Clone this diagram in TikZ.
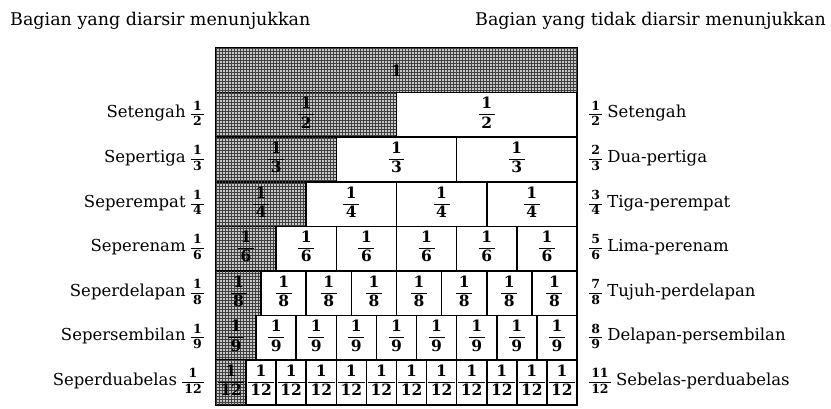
\documentclass[tikz,border=0pt]{standalone}
\usepackage{fontspec}
\setmainfont{DejaVu Serif}
\usetikzlibrary{patterns,positioning}

\setlength{\arrayrulewidth}{1.1pt}
\newcommand{\fr}[2]{\begin{tabular}{@{\,}c@{\,}}\bfseries #1\\\hline\bfseries #2\end{tabular}}
\newcommand{\smallfr}[2]{{\fontsize{12.5}{14.5}\selectfont\fr{#1}{#2}}}

\begin{document}
\begin{tikzpicture}[x=1pt,y=-1pt]
	\tikzset{
		cell/.style={draw, line width=1.6pt, minimum width=#1, minimum height=44.6pt,
				inner sep=0, outer sep=0, anchor=north west, font=\fontsize{15.5}{18}\selectfont},
		shaded/.style={fill=black!22, postaction={pattern=grid, pattern color=black!75}},
		rowlabel/.style={font=\fontsize{16.5}{18}\selectfont, inner sep=0},
		headlabel/.style={font=\fontsize{17.5}{20}\selectfont, inner sep=0},
	}
	\useasboundingbox (0,0) rectangle (831,408);
	% headers
	\node[headlabel, anchor=base west] (hleft) at (10,25) {Bagian yang diarsir menunjukkan};
	\node[headlabel, anchor=base east] (hright) at (826,25) {Bagian yang tidak diarsir menunjukkan};
	% whole bar
	\node[cell=361pt, shaded] (c0-1) at (216,48) {\bfseries 1};
	\foreach \n/\r/\lname/\m/\rname in {2/1/Setengah/1/Setengah, 3/2/Sepertiga/2/Dua-pertiga,
			4/3/Seperempat/3/Tiga-perempat, 6/4/Seperenam/5/Lima-perenam,
			8/5/Seperdelapan/7/Tujuh-perdelapan, 9/6/Sepersembilan/8/Delapan-persembilan,
			12/7/Seperduabelas/11/Sebelas-perduabelas}
		{
			\node[cell={361pt/\n}, shaded] (c\r-1) at (216, {48+44.6*\r}) {\fr{1}{\n}};
			\foreach \k in {2,...,\n}{
					\node[cell={361pt/\n}] (c\r-\k) at ({216+361*(\k-1)/\n}, {48+44.6*\r}) {\fr{1}{\n}};
				}
			\node[rowlabel, left=12pt of c\r-1] (l\r) {\lname\ \smallfr{1}{\n}};
			\node[rowlabel, right=12pt of c\r-\n] (r\r) {\smallfr{\m}{\n}\ \rname};
		}
\end{tikzpicture}
\end{document}
